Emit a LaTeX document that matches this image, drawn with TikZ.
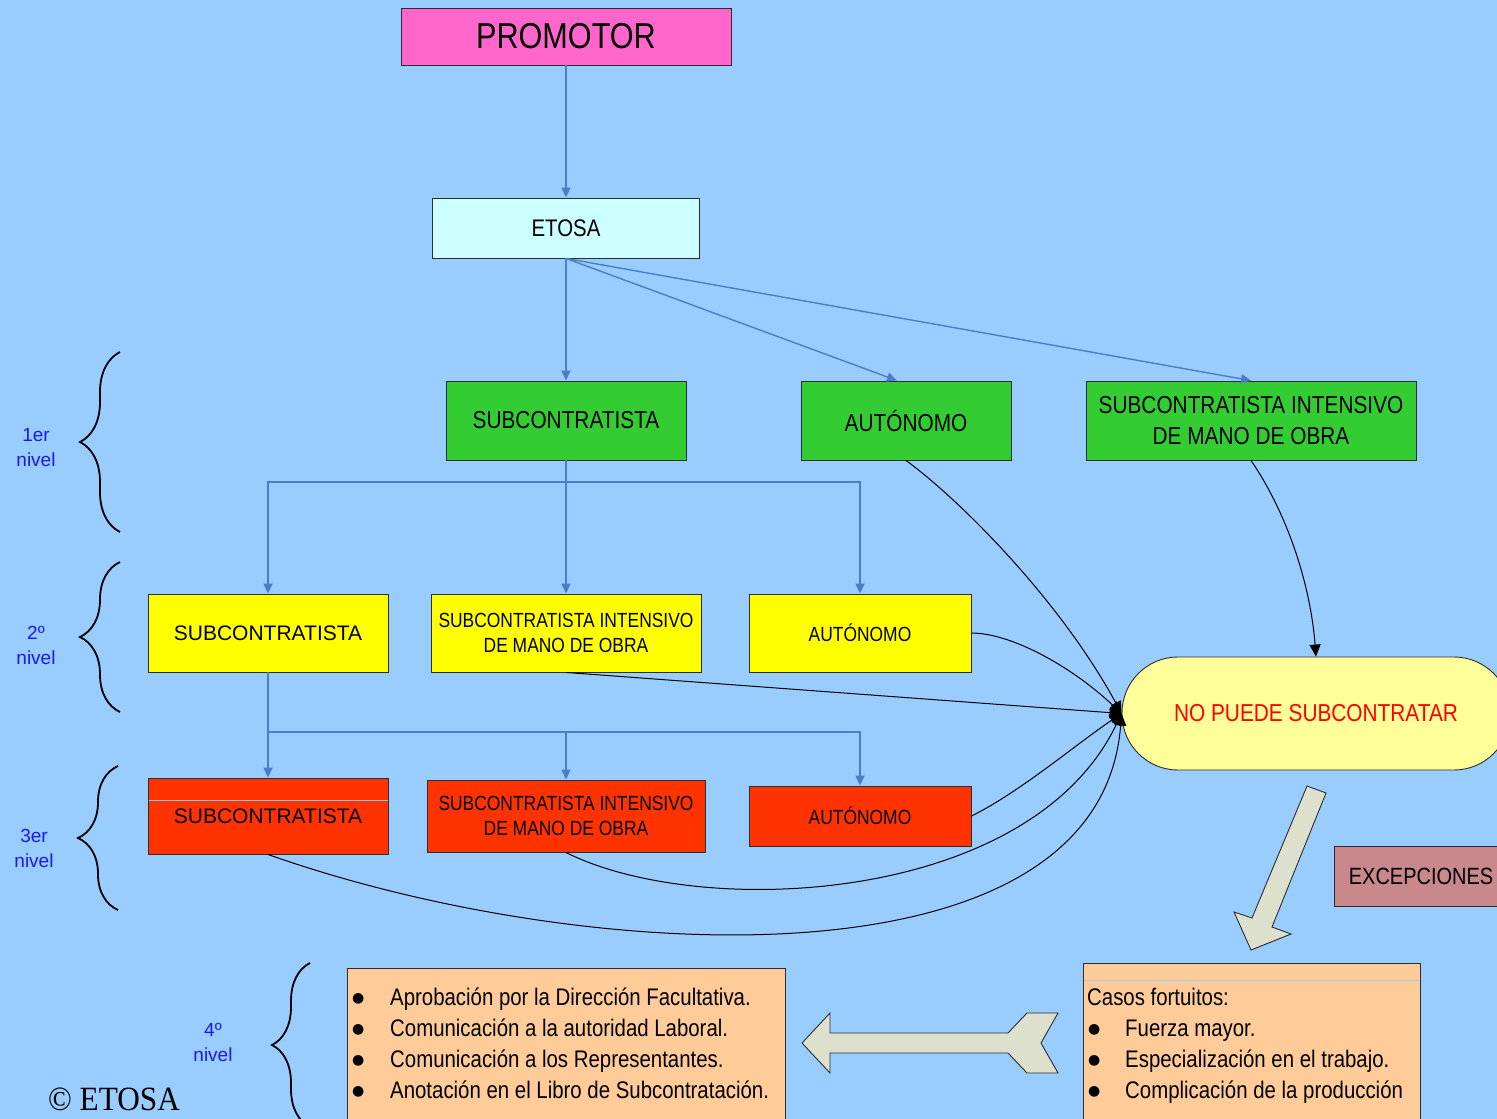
\documentclass[tikz,border=0pt]{standalone}
\usepackage{fontspec}
\setmainfont{Liberation Sans}
\newfontfamily\nar[FakeStretch=0.85]{Liberation Sans}
\newfontfamily\ser[FakeStretch=0.92]{Liberation Serif}
\newfontfamily\dejav{DejaVu Sans}
\usetikzlibrary{arrows.meta,decorations.pathreplacing,calc}
\definecolor{bgc}{HTML}{99CCFF}
\definecolor{promc}{HTML}{FF66CC}
\definecolor{etosac}{HTML}{CCFFFF}
\definecolor{greenc}{HTML}{33CC33}
\definecolor{yellowc}{HTML}{FFFF00}
\definecolor{redc}{HTML}{FF3300}
\definecolor{nopc}{HTML}{FFFF99}
\definecolor{excc}{RGB}{200,136,140}
\definecolor{orangec}{HTML}{FFCC99}
\definecolor{arrc}{RGB}{221,224,204}
\definecolor{linkc}{RGB}{74,126,200}
\definecolor{lvlc}{RGB}{25,25,240}
\definecolor{edgec}{RGB}{45,45,45}
\definecolor{lightln}{RGB}{160,200,245}
\newcommand\fsz[2]{\fontsize{#1pt}{#2pt}\selectfont}
\newcommand\bul[1]{\makebox[#1][l]{\raisebox{3pt}{\dejav\fontsize{14pt}{14pt}\selectfont ●}}}
\begin{document}
\begin{tikzpicture}[x=1pt,y=-1pt,
  box/.style={draw=edgec, line width=0.9pt, inner sep=0pt, align=center},
  bl/.style={draw=linkc, line width=1.4pt, -{Triangle[length=10pt,width=9pt]}},
  bk/.style={draw=black, line width=1pt, -{Triangle[length=12pt,width=11pt]}},
  lvl/.style={text=lvlc, font=\fsz{19}{25}, align=center, inner sep=0pt},
  brc/.style={draw=black, line width=1.8pt, decorate, decoration={brace, amplitude=40pt}},
  txt/.style={inner sep=0pt, anchor=base west, font=\nar\fsz{24}{31}},
  blockarr/.style={fill=arrc, draw=edgec, line width=0.9pt, line join=miter}
]
\useasboundingbox (0,0) rectangle (1497,1119);
\fill[bgc] (0,0) rectangle (1497,1119);
\clip (0,0) rectangle (1497,1119);

% top
\node[box, fill=promc, minimum width=330pt, minimum height=57pt, font=\nar\fsz{36}{40}] (prom) at (566,36.5) {PROMOTOR};
\node[box, fill=etosac, minimum width=267pt, minimum height=60pt, font=\nar\fsz{24}{28}] (etosa) at (566,228) {ETOSA};

% level 1
\node[box, fill=greenc, minimum width=240pt, minimum height=79pt, font=\nar\fsz{24.5}{31}] (g1) at (566,420.5) {SUBCONTRATISTA};
\node[box, fill=greenc, minimum width=210pt, minimum height=79pt, font=\nar\fsz{24.5}{31}] (g2) at (906,420.5) {AUTÓNOMO};
\node[box, fill=greenc, minimum width=330pt, minimum height=79pt, font=\nar\fsz{24.5}{31}] (g3) at (1251,420.5) {SUBCONTRATISTA INTENSIVO\\DE MANO DE OBRA};

% level 2
\node[box, fill=yellowc, minimum width=240pt, minimum height=78pt, font=\fsz{21}{25}] (y1) at (268,633) {SUBCONTRATISTA};
\node[box, fill=yellowc, minimum width=270pt, minimum height=78pt, font=\nar\fsz{20.5}{25}] (y2) at (566,633) {SUBCONTRATISTA INTENSIVO\\DE MANO DE OBRA};
\node[box, fill=yellowc, minimum width=222pt, minimum height=78pt, font=\nar\fsz{20.5}{25}] (y3) at (860,633) {AUTÓNOMO};

% level 3
\node[box, fill=redc, minimum width=240pt, minimum height=76pt, font=\fsz{21}{25}] (r1) at (268,816) {SUBCONTRATISTA};
\draw[lightln, line width=0.8pt] (148.5,800) -- (387.5,800);
\node[box, fill=redc, minimum width=278pt, minimum height=72pt, font=\nar\fsz{20.5}{25}] (r2) at (566,816) {SUBCONTRATISTA INTENSIVO\\DE MANO DE OBRA};
\node[box, fill=redc, minimum width=222pt, minimum height=60pt, font=\nar\fsz{20.5}{25}] (r3) at (860,816) {AUTÓNOMO};

% no puede
\node[box, fill=nopc, rounded corners=56pt, minimum width=388pt, minimum height=113pt, text=red, font=\nar\fsz{24.5}{30}] (nop) at (1316,713.5) {NO PUEDE SUBCONTRATAR};

% excepciones
\node[box, fill=excc, minimum width=174pt, minimum height=60pt, font=\nar\fsz{23.5}{28}] (exc) at (1421,876) {EXCEPCIONES};

% bottom boxes
\node[box, fill=orangec, minimum width=438pt, minimum height=162pt] (abox) at (566,1049) {};
\node[box, fill=orangec, minimum width=337pt, minimum height=167pt] (cbox) at (1251.5,1046.5) {};
\draw[lightln, line width=0.8pt] (1084,980) -- (1419,980);

\node[txt] (a1) at (352,1005.6) {\bul{38pt}Aprobación por la Dirección Facultativa.};
\node[txt] (a2) at (352,1036.6) {\bul{38pt}Comunicación a la autoridad Laboral.};
\node[txt] (a3) at (352,1067.6) {\bul{38pt}Comunicación a los Representantes.};
\node[txt] (a4) at (352,1098.6) {\bul{38pt}Anotación en el Libro de Subcontratación.};

\node[txt] (c0) at (1087,1005.6) {Casos fortuitos:};
\node[txt] (c1) at (1088,1036.6) {\bul{37pt}Fuerza mayor.};
\node[txt] (c2) at (1088,1067.6) {\bul{37pt}Especialización en el trabajo.};
\node[txt] (c3) at (1088,1098.6) {\bul{37pt}Complicación de la producción};

% level labels and braces
\node[lvl] (l1) at (36,447.5) {1er\\nivel};
\node[lvl] (l2) at (36,645) {2º\\nivel};
\node[lvl] (l3) at (34,848.5) {3er\\nivel};
\node[lvl] (l4) at (213,1042.5) {4º\\nivel};
\draw[brc] (120,532) -- (120,352);
\draw[brc] (120,712) -- (120,562);
\draw[brc] (118,910) -- (118,766);
\draw[brc, decoration={brace, amplitude=38pt}] (310,1127) -- (310,963);

\node[font=\ser\fsz{34}{36}, inner sep=0pt] (copy) at (114,1099) {© ETOSA};

% blue connectors
\draw[bl] (prom.south) -- (etosa.north);
\draw[bl] (etosa.south) -- (g1.north);
\draw[bl] (etosa.south) -- ([xshift=-9pt]g2.north);
\draw[bl] (etosa.south) -- (g3.north);
\coordinate (h1) at (566,482);
\draw[bl] (g1.south) -- (y2.north);
\draw[bl] (h1) -| (y1.north);
\draw[bl] (h1) -| (y3.north);
\coordinate (h2) at (268,732);
\draw[bl] (y1.south) -- (r1.north);
\draw[bl] (h2) -| (r2.north);
\draw[bl] (h2) -| (r3.north);

% black connectors
\draw[bk] (g2.south) .. controls (960,500) and (1060,600) .. (nop.west);
\draw[bk] (y3.east) .. controls (1010,633) and (1070,665) .. (nop.west);
\draw[bk] (y2.south) -- (nop.west);
\draw[bk] (r3.east) .. controls (1020,792) and (1075,745) .. (nop.west);
\draw[bk] (r2.south) .. controls (700,920) and (1030,905) .. (nop.west);
\draw[bk] (r1.south) .. controls (580,965) and (1100,995) .. (nop.west);
\draw[bk] (g3.south) .. controls (1285,510) and (1310,580) .. (nop.north);

% block arrows
\draw[blockarr] (1307,786) -- (1326,793) -- (1272,927) -- (1291,934) -- (1251,950) -- (1234,912) -- (1252,918) -- cycle;
\draw[blockarr] (802,1043) -- (830,1013) -- (830,1033) -- (1008,1033) -- (1027,1013) -- (1058,1013) -- (1041,1043) -- (1058,1073) -- (1027,1073) -- (1008,1053) -- (830,1053) -- (830,1073) -- cycle;
\end{tikzpicture}
\end{document}
